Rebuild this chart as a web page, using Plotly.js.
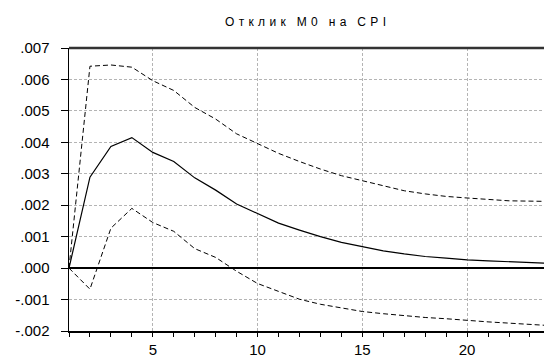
<!DOCTYPE html>
<html><head><meta charset="utf-8">
<script src="https://cdn.plot.ly/plotly-3.0.1.min.js"></script>
<style>html,body{margin:0;padding:0;background:#fff}#chart{width:544px;height:356px}</style>
</head><body><div id="chart"></div>
<script>
var periods = [1,2,3,4,5,6,7,8,9,10,11,12,13,14,15,16,17,18,19,20,21,22,23,24];
var response = [0,0.00289,0.00387,0.00415,0.00368,0.00339,0.00287,0.00248,0.00204,0.00174,0.00143,0.00121,0.00100,0.00082,0.00068,0.00055,0.00045,0.00037,0.00032,0.00026,0.00023,0.00020,0.00017,0.00015];
var upperBand = [0,0.00642,0.00646,0.00639,0.00596,0.00565,0.00511,0.00474,0.00427,0.00397,0.00365,0.00339,0.00315,0.00294,0.00278,0.00262,0.00246,0.00236,0.00228,0.00223,0.00218,0.00214,0.00213,0.00212];
var lowerBand = [0,-0.00067,0.00127,0.00190,0.00145,0.00117,0.00062,0.00034,-0.00010,-0.00049,-0.00074,-0.00099,-0.00115,-0.00127,-0.00138,-0.00145,-0.00152,-0.00157,-0.00161,-0.00167,-0.00171,-0.00175,-0.00180,-0.00183];
var yTickVals = [0.007,0.006,0.005,0.004,0.003,0.002,0.001,0,-0.001,-0.002];
var yTickText = ['.007','.006','.005','.004','.003','.002','.001','.000','-.001','-.002'];
var titleWords = ['Отклик', 'M0', 'на', 'CPI'];

var NB = '\u00a0', HS = '\u200a';
var titleText = titleWords.map(function (w) { return w.split('').join(NB + HS); }).join(NB + NB + NB + HS);

var traces = [
  {x: periods, y: upperBand, mode: 'lines', line: {color: '#000', width: 1, dash: '5px,3px'}, hoverinfo: 'skip'},
  {x: periods, y: lowerBand, mode: 'lines', line: {color: '#000', width: 1, dash: '5px,3px'}, hoverinfo: 'skip'},
  {x: periods, y: response, mode: 'lines', line: {color: '#000', width: 1.2}, hoverinfo: 'skip'}
];
var layout = {
  width: 544, height: 356,
  margin: {l: 69, r: 0, t: 48, b: 25, pad: 0},
  paper_bgcolor: '#fff', plot_bgcolor: '#fff',
  showlegend: false,
  font: {family: 'Liberation Sans, Arial, sans-serif', size: 15, color: '#000'},
  title: {text: titleText, font: {size: 12, color: '#000'}, xref: 'container', x: 305.5/544, xanchor: 'center', yref: 'container', y: 1 - 22/356, yanchor: 'middle'},
  xaxis: {
    range: [1, 23.67], tickmode: 'linear', tick0: 0, dtick: 5,
    ticks: 'outside', ticklen: 4, tickwidth: 1, tickcolor: '#000',
    showline: true, linecolor: '#000', linewidth: 1.5,
    showgrid: true, gridcolor: '#b4b4b4', griddash: '3px,2px', gridwidth: 1,
    zeroline: false,
    minor: {dtick: 1, tick0: 0, ticks: 'outside', ticklen: 4, tickcolor: '#000', showgrid: false},
    tickfont: {size: 15}
  },
  yaxis: {
    range: [-0.002, 0.007], tickmode: 'array', tickvals: yTickVals, ticktext: yTickText,
    ticks: 'outside', ticklen: 7, tickwidth: 1, tickcolor: '#000',
    showline: true, linecolor: '#000', linewidth: 1.5,
    showgrid: true, gridcolor: '#b4b4b4', griddash: '3px,2px', gridwidth: 1,
    zeroline: true, zerolinecolor: '#000', zerolinewidth: 1.3,
    ticklabelstandoff: 8,
    tickfont: {size: 15}
  },
  shapes: [
    {type: 'line', xref: 'paper', yref: 'paper', x0: 0, x1: 1, y0: 1, y1: 1, line: {color: '#333', width: 2.5}}
  ]
};
Plotly.newPlot('chart', traces, layout, {staticPlot: true, displayModeBar: false});
</script>
</body></html>
